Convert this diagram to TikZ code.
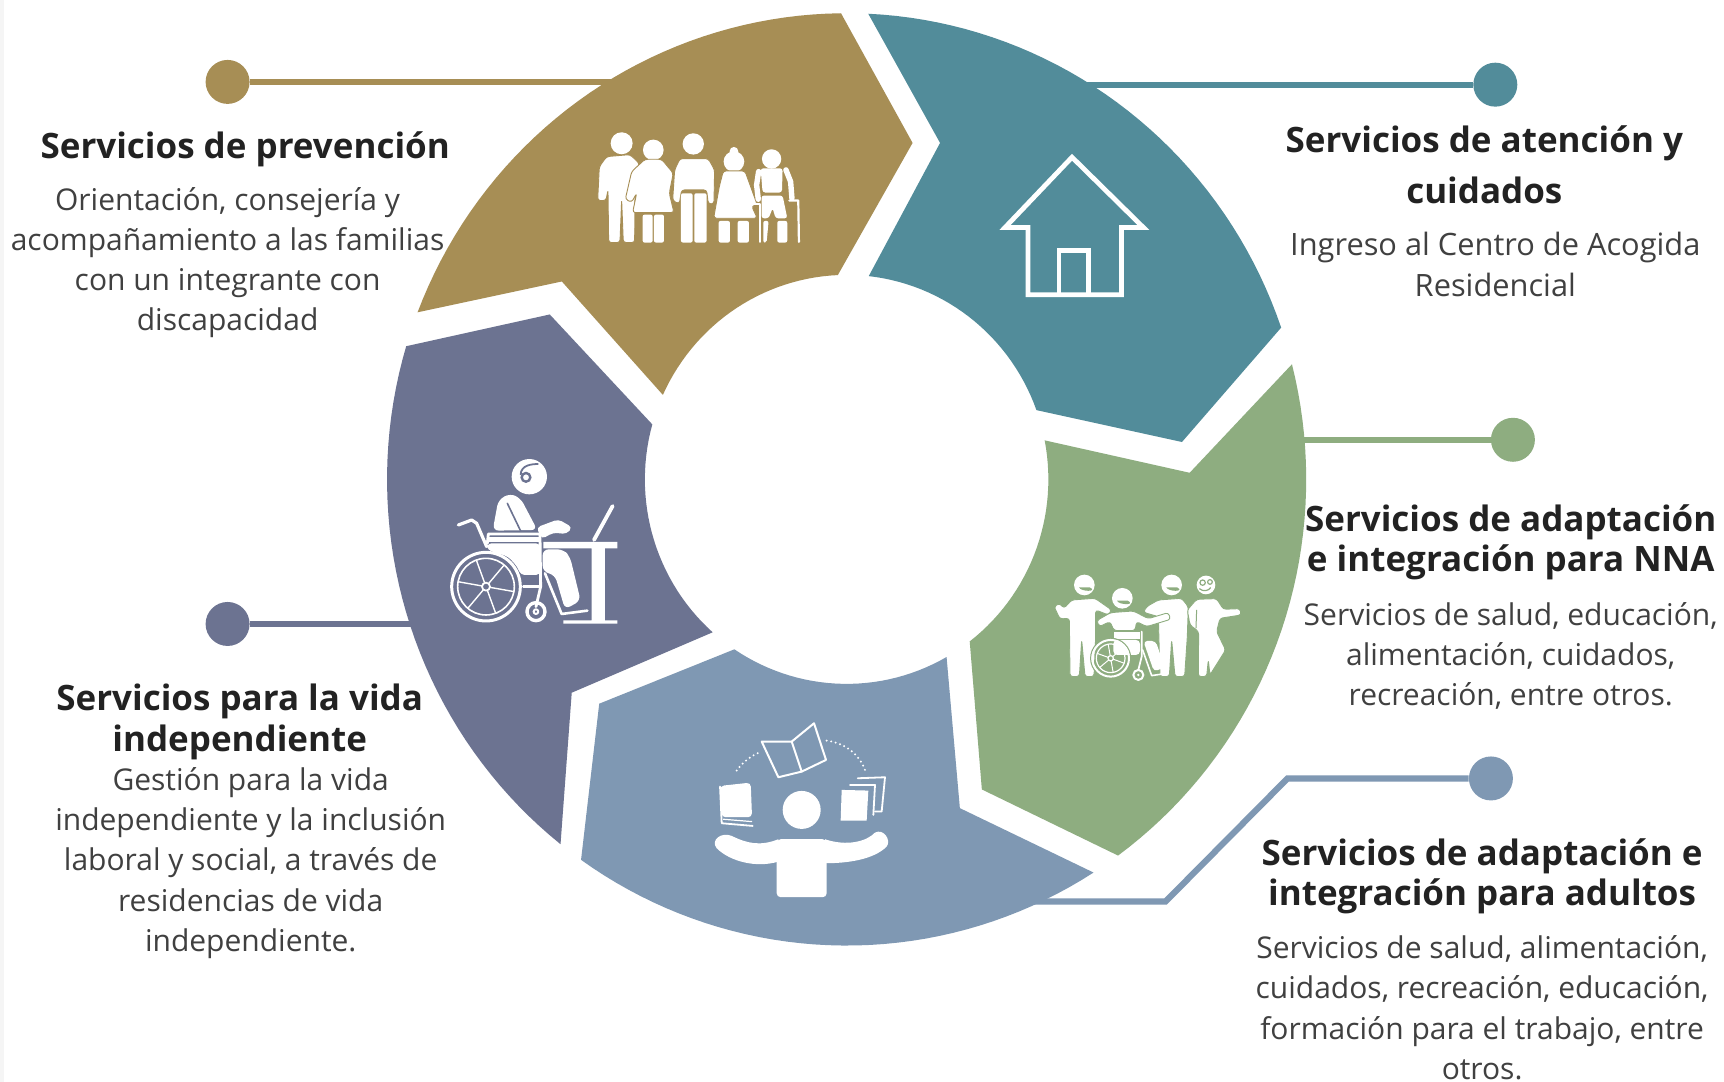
\documentclass[tikz,border=0pt]{standalone}
\usepackage{fontspec}
\setmainfont{Open Sans}
\definecolor{cgold}{HTML}{A78E55}
\definecolor{cteal}{HTML}{528C9A}
\definecolor{cgreen}{HTML}{8EAD80}
\definecolor{cblue}{HTML}{7F98B3}
\definecolor{cpurple}{HTML}{6C7391}
\definecolor{ctitle}{HTML}{222222}
\definecolor{cbody}{HTML}{404040}
\tikzset{
  dot/.style={circle,fill=#1,minimum size=22pt,inner sep=0pt},
  leader/.style={draw=#1,line width=3.1pt},
  title/.style={font=\fontsize{17.5}{20.1}\selectfont\bfseries,text=ctitle,align=center,inner sep=0pt},
  body/.style={font=\fontsize{15}{20.1}\selectfont,text=cbody,align=center,inner sep=0pt},
  ic/.style={fill=white,draw=#1,line width=.45pt,rounded corners=1.4pt,line join=round},
  ln/.style={draw=white,line width=#1,line cap=round,line join=round},
  oc/.style={domain=#1,samples=40},
  ic2/.style={domain=#1,samples=30},
}
\begin{document}
\begin{tikzpicture}[x=0.55pt,y=-0.55pt]
\useasboundingbox (0,0) rectangle (1568,984);
\fill[white] (0,0) rectangle (1568,984);
\fill[black!4] (0,0) rectangle (4,984);
% dots and free ends
\node[dot=cgold] (dgold) at (207,74.5) {};
\node[dot=cteal] (dteal) at (1360,77) {};
\node[dot=cgreen] (dgreen) at (1376,400) {};
\node[dot=cpurple] (dpurple) at (207,567.5) {};
\node[dot=cblue] (dblue) at (1356,708) {};
\coordinate (egold) at (600,74.5);
\coordinate (eteal) at (960,77);
\coordinate (egreen) at (1170,400);
\coordinate (epurple) at (390,567.5);
\coordinate (eblue) at (940,820);
\coordinate (kblue1) at (1171,708);
\coordinate (kblue2) at (1060,820);
\draw[leader=cgold] (dgold) -- (egold);
\draw[leader=cteal] (dteal) -- (eteal);
\draw[leader=cgreen] (dgreen) -- (egreen);
\draw[leader=cpurple] (dpurple) -- (epurple);
\draw[leader=cblue] (dblue) -- (kblue1) -- (kblue2) -- (eblue);
% ring
\fill[cgold] plot[oc=201:269.3] ({770+418*cos(\x)},{436+424*sin(\x)}) -- (830,130) -- plot[ic2=267.5:204.4] ({770+183.5*cos(\x)},{436+186*sin(\x)}) -- (511,256) -- cycle;
\fill[cteal] plot[oc=272.7:341] ({770+418*cos(\x)},{436+424*sin(\x)}) -- (1075,402) -- plot[ic2=340.2:276.3] ({770+183.5*cos(\x)},{436+186*sin(\x)}) -- (855,130) -- cycle;
\fill[cgreen] plot[oc=-14.3:53.8] ({770+418*cos(\x)},{436+424*sin(\x)}) -- (893,718) -- plot[ic2=52.4:-11] ({770+183.5*cos(\x)},{436+186*sin(\x)}) -- (1082,430) -- cycle;
\fill[cblue] plot[oc=57.5:125.3] ({770+418*cos(\x)},{436+424*sin(\x)}) -- (545,640) -- plot[ic2=123.8:60.3] ({770+183.5*cos(\x)},{436+186*sin(\x)}) -- (873,735) -- cycle;
\fill[cpurple] plot[oc=128.5:196.6] ({770+418*cos(\x)},{436+424*sin(\x)}) -- (500,286) -- plot[ic2=195.6:131.6] ({770+183.5*cos(\x)},{436+186*sin(\x)}) -- (520,630) -- cycle;
% house
\draw[white,line width=2.4pt,line join=miter] (914,207) -- (975,143) -- (1040,207) -- (1020,207) -- (1020,268) -- (935,268) -- (935,207) -- cycle;
\draw[white,line width=2.2pt] (963,268) -- (963,228) -- (990,228) -- (990,268);
% family
\begin{scope}[shift={(527.5,100)},x=.1667pt,y=-.1667pt]
\fill[white] (125,100) circle[radius=33];
\path[ic=cgold] (80,140) -- (150,134) -- (178,160) -- (165,260) -- (164,398) -- (130,398) -- (125,270) -- (120,398) -- (86,398) -- (84,240) -- (78,272) -- (53,272) -- (58,170) -- cycle;
\fill[white] (220,120) circle[radius=31];
\path[ic=cgold] (195,148) -- (245,148) -- (280,190) -- (268,250) -- (282,308) -- (158,308) -- (170,250) -- (155,277) -- (136,268) -- (155,185) -- cycle;
\fill[white,rounded corners=1pt] (188,314) rectangle (218,398) (222,314) rectangle (252,398);
\fill[white] (340,102) circle[radius=32];
\path[ic=cgold] (300,146) -- (385,146) -- (404,180) -- (402,282) -- (385,282) -- (380,240) -- (305,240) -- (298,282) -- (278,272) -- (284,180) -- cycle;
\fill[white,rounded corners=1pt] (303,250) rectangle (338,398) (343,250) rectangle (380,398);
\fill[white] (462,155) circle[radius=31] (462,124) circle[radius=13];
\path[ic=cgold] (430,183) -- (495,183) -- (532,285) -- (515,288) -- (532,325) -- (401,325) -- (418,230) -- cycle;
\fill[white,rounded corners=1pt] (416,333) rectangle (450,398) (473,333) rectangle (507,398);
\draw[ln=1.1pt] (515,283) -- (540,283) -- (540,396);
\fill[white] (575,147) circle[radius=29];
\fill[white,rounded corners=1.4pt] (542,175) -- (608,175) -- (606,248) -- (548,248) -- cycle;
\draw[ln=2.7pt] (536,185) -- (530,225) -- (535,268);
\draw[ln=2.7pt] (618,180) -- (632,215) -- (636,265);
\fill[white,rounded corners=1.2pt] (545,257) -- (608,257) -- (622,325) -- (587,325) -- (578,295) -- (566,325) -- (545,325) -- cycle;
\fill[white,rounded corners=1pt] (592,333) rectangle (622,398) (550,333) -- (566,333) -- (560,398) -- (550,398) -- cycle;
\draw[ln=1.1pt] (628,272) -- (655,272) -- (657,396);
\end{scope}
% wheelchair at desk
\begin{scope}[shift={(391.1,400.2)},x=.1667pt,y=-.1667pt]
\fill[white] (298,110) circle[radius=53];
\draw[cpurple,line width=1.2pt] (288,112) circle[radius=13];
\draw[cpurple,line width=.9pt] (272,105) .. controls (272,75) and (305,72) .. (325,72);
\fill[white,rounded corners=3pt] (188,272) -- (205,180) -- (240,160) -- (272,175) -- (322,270) -- cycle;
\draw[cpurple,line width=.8pt,line cap=round] (232,190) -- (285,300);
\fill[white,rounded corners=2pt] (320,262) -- (385,238) -- (427,262) -- (410,282) -- (370,278) -- (335,297) -- cycle;
\draw[ln=1.6pt] (85,255) -- (125,240) -- (140,250) -- (170,320);
\draw[ln=1.4pt] (172,310) -- (175,282) -- (330,282) -- (332,440) -- (318,500);
\fill[white] (176,290) rectangle (326,306);
\fill[white,rounded corners=2pt] (172,310) -- (330,310) -- (330,405) -- (272,405) -- (262,380) -- (235,350) -- (172,330) -- cycle;
\draw[ln=1.2pt] (280,440) -- (330,440);
\draw[ln=1.5pt] (168,440) circle[radius=103];
\draw[ln=.8pt] (168,440) circle[radius=85];
\draw[ln=.9pt] (168,440) circle[radius=12];
\foreach \a in {10,70,130,190,250,310} \draw[ln=.7pt] ({168+12*cos(\a)},{440+12*sin(\a)}) -- ({168+85*cos(\a)},{440+85*sin(\a)});
\draw[ln=1.7pt] (318,515) circle[radius=27];
\draw[ln=1pt] (318,515) circle[radius=7];
\fill[white,rounded corners=3pt] (338,328) -- (400,328) -- (420,350) -- (452,482) -- (405,508) -- (375,405) -- (338,395) -- cycle;
\draw[ln=1.3pt] (345,400) -- (395,522) -- (472,512);
\fill[white] (340,306) rectangle (562,325) (485,325) rectangle (525,545) (400,541) rectangle (562,551);
\draw[ln=1.9pt] (492,300) -- (548,198);
\end{scope}
% juggling
\begin{scope}[shift={(627.6,636.6)},x=.1667pt,y=-.1667pt]
\fill[white] (335,330) circle[radius=57];
\fill[white,rounded corners=2pt] (260,418) -- (410,418) -- (410,592) -- (260,592) -- cycle;
\fill[white] (265,418) .. controls (210,440) and (170,430) .. (125,408) .. controls (95,395) and (60,420) .. (80,445) .. controls (120,485) and (200,505) .. (265,485) -- cycle;
\fill[white] (405,418) .. controls (470,440) and (530,425) .. (555,398) .. controls (580,385) and (605,420) .. (590,440) .. controls (550,480) and (470,490) .. (405,490) -- cycle;
\draw[ln=1pt] (215,125) -- (305,125) -- (372,70) -- (408,180) -- (335,215) -- (265,232) -- cycle;
\draw[ln=1pt] (305,125) -- (335,215);
\draw[white,line width=1.1pt,dash pattern=on 0pt off 2.3pt,line cap=round] (140,212) .. controls (160,185) and (185,165) .. (215,155);
\draw[white,line width=1.1pt,dash pattern=on 0pt off 2.3pt,line cap=round] (410,122) .. controls (470,130) and (515,170) .. (528,220);
\fill[white,rounded corners=2pt] (90,258) -- (182,248) -- (186,352) -- (95,352) -- cycle;
\draw[ln=.9pt] (90,260) -- (95,370) -- (188,378);
\draw[ln=.6pt] (100,358) -- (185,365);
\draw[ln=.9pt] (503,235) -- (585,232) -- (575,335) -- (555,335);
\draw[ln=.9pt] (480,255) -- (555,255) -- (550,345);
\fill[white] (455,270) -- (535,272) -- (530,362) -- (452,362) -- cycle;
\end{scope}
% group
\begin{scope}[shift={(945.9,509.3)},x=.1667pt,y=-.1667pt]
\fill[white] (133,75) circle[radius=31] (395,75) circle[radius=31] (247,115) circle[radius=31] (498,75) circle[radius=28];
\foreach \px/\py in {117/82,379/82,231/122} \fill[cgreen] (\px,\py) .. controls +(5,14) and +(27,14) .. +(32,0) -- cycle;
\draw[cgreen,line width=.6pt] (488,68) circle[radius=8] (510,66) circle[radius=7];
\draw[cgreen,line width=.6pt] (478,86) .. controls (490,96) and (505,93) .. (512,83);
\path[ic=cgreen] (95,120) -- (165,115) -- (215,150) -- (205,165) -- (167,150) -- (167,230) -- (162,350) -- (135,350) -- (125,240) -- (118,350) -- (90,350) -- (88,175) -- (60,177) -- (42,140) -- (58,130) -- (72,145) -- cycle;
\path[ic=cgreen] (355,120) -- (425,115) -- (445,140) -- (442,230) -- (434,350) -- (405,350) -- (395,240) -- (388,350) -- (360,350) -- (355,170) -- (310,157) -- (320,140) -- cycle;
\path[ic=cgreen] (470,118) -- (530,116) -- (550,148) -- (600,146) -- (604,165) -- (540,175) -- (530,215) -- (557,270) -- (510,345) -- (505,300) -- (500,350) -- (475,350) -- (476,215) -- (450,195) -- (442,150) -- cycle;
\draw[cgreen,line width=.5pt] (470,150) -- (468,205);
\path[ic=cgreen] (212,158) -- (280,153) -- (325,176) -- (385,158) -- (392,178) -- (320,200) -- (290,185) -- (285,212) -- (222,212) -- (210,185) -- (178,200) -- (170,182) -- cycle;
\fill[white] (222,216) rectangle (300,236);
\draw[ln=.9pt] (305,215) -- (305,290) -- (295,330);
\fill[white,rounded corners=2pt] (220,240) rectangle (300,285);
\fill[white,rounded corners=2pt] (310,243) -- (347,243) -- (374,322) -- (342,335) -- cycle;
\draw[ln=.8pt] (308,270) -- (335,347) -- (382,340);
\draw[cgreen,line width=.6pt] (212,295) circle[radius=60];
\draw[ln=1pt] (212,295) circle[radius=55];
\draw[ln=.6pt] (212,295) circle[radius=43];
\draw[ln=.6pt] (212,295) circle[radius=8];
\foreach \a in {20,80,140,200,260,320} \draw[ln=.5pt] ({212+8*cos(\a)},{295+8*sin(\a)}) -- ({212+43*cos(\a)},{295+43*sin(\a)});
\draw[ln=1pt] (295,345) circle[radius=15];
\fill[white] (295,345) circle[radius=4];
\end{scope}
% texts
\node[title] (t1) at (223,135.5) {Servicios de prevención};
\node[body] (b1) at (207,239) {Orientación, consejería y\\acompañamiento a las familias\\con un integrante con\\discapacidad};
\node[title,font=\fontsize{17.5}{25.3}\selectfont\bfseries] (t2) at (1350,150) {Servicios de atención y\\cuidados};
\node[body,font=\fontsize{15.4}{20.1}\selectfont] (b2) at (1360,240.5) {Ingreso al Centro de Acogida\\Residencial};
\node[title] (t3) at (1374,493.5) {Servicios de adaptación\\e integración para NNA};
\node[body] (b3) at (1374,596.5) {Servicios de salud, educación,\\alimentación, cuidados,\\recreación, entre otros.};
\node[title] (t4) at (1348,797) {Servicios de adaptación e\\integración para adultos};
\node[body] (b4) at (1348,916.5) {Servicios de salud, alimentación,\\cuidados, recreación, educación,\\formación para el trabajo, entre\\otros.};
\node[title] (t5) at (218,656.5) {Servicios para la vida\\independiente};
\node[body] (b5) at (228,785) {Gestión para la vida\\independiente y la inclusión\\laboral y social, a través de\\residencias de vida\\independiente.};
\end{tikzpicture}
\end{document}
